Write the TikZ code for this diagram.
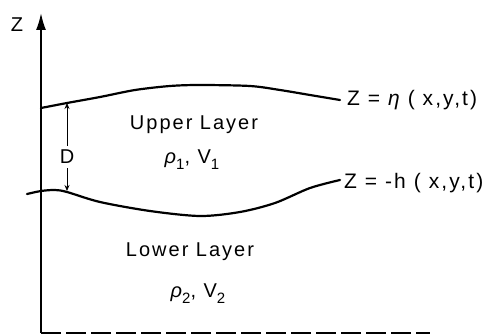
\documentclass[tikz,border=0pt]{standalone}
\usepackage{fontspec}
\setmainfont{Liberation Sans}[LetterSpace=10]
\usetikzlibrary{arrows.meta}
\newcommand{\lowsub}[1]{\raisebox{-0.55ex}{\fontsize{15}{17}\selectfont #1}}
\tikzset{
	layertext/.style={
			inner sep=0pt,
			font=\fontsize{20}{23}\selectfont
		},
	eqtext/.style={
			inner sep=0pt,
			anchor=west,
			font=\fontsize{21}{24}\selectfont
		},
	surface/.style={
			line width=2.2pt,
			line cap=round
		},
	gaparrow/.style={
			thick,
			-{Stealth[length=6pt,width=5pt]}
		}
}
\begin{document}
\begin{tikzpicture}[x=1pt, y=-1pt]
\useasboundingbox (0,0) rectangle (489,334);
% axis and floor
\coordinate (axbot) at (41,333);
\coordinate (axtop) at (41,13);
\coordinate (floorend) at (430,333);
\draw[line width=1.8pt, -{Latex[length=17pt,width=10pt]}] (axbot) -- (axtop);
\draw[line width=1.6pt, dash pattern=on 20pt off 5pt] (axbot) -- (floorend);
\node[layertext] (zlabel) at (17,25) {Z};

% free surface and interface
\draw[surface] plot[smooth] coordinates
  {(41,108) (67,103) (100,97) (135,90) (170,86) (200,85) (250,86) (280,90) (310,95) (340,100)};
\draw[surface] plot[smooth] coordinates
  {(27,194) (41,191) (55,190) (67,192) (100,202) (150,211) (200,216) (240,212) (275,203) (310,188) (340,180)};

\node[eqtext] (etatext) at (347,100) {Z = \itshape η \upshape ( x,y,t)};
\node[eqtext] (htext) at (344,183) {Z = -h ( x,y,t)};

% layer thickness
\node[layertext] (dlabel) at (67,157) {D};
\coordinate (dtop) at (67,103);
\coordinate (dbot) at (67,191);
\draw[gaparrow] (dlabel.north) ++(0,-4) -- (dtop);
\draw[gaparrow] (dlabel.south) ++(0,4) -- (dbot);

% layers
\node[layertext] (upper) at (194,125) {Upper Layer};
\node[layertext] (rhoone) at (192,160) {\itshape ρ\upshape\lowsub{1}, V\lowsub{1}};
\node[layertext] (lower) at (190,252) {Lower Layer};
\node[layertext] (rhotwo) at (198,294) {\itshape ρ\upshape\lowsub{2}, V\lowsub{2}};
\end{tikzpicture}
\end{document}
